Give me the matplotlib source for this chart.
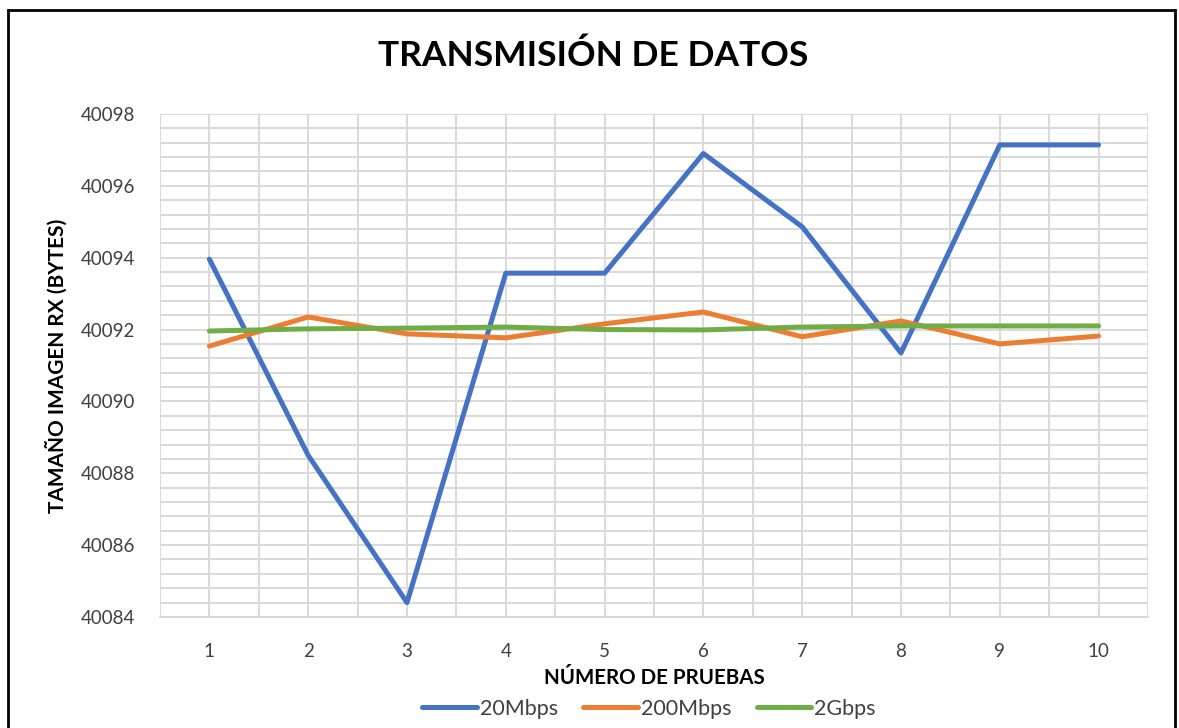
import numpy as np
import matplotlib.pyplot as plt
from matplotlib.patches import Rectangle
from matplotlib.ticker import MultipleLocator

plt.rcParams['font.family'] = ['Lato', 'DejaVu Sans']

# Data
pruebas = [1, 2, 3, 4, 5, 6, 7, 8, 9, 10]
mbps20 = [40093.96, 40088.5, 40084.4, 40093.57, 40093.57, 40096.9, 40094.86, 40091.35, 40097.14, 40097.14]
mbps200 = [40091.54, 40092.35, 40091.88, 40091.77, 40092.16, 40092.49, 40091.8, 40092.24, 40091.6, 40091.82]
gbps2 = [40091.96, 40092.02, 40092.04, 40092.07, 40092.0, 40091.99, 40092.07, 40092.1, 40092.1, 40092.1]
series_names = ['20Mbps', '200Mbps', '2Gbps']
colors = ['#4472C4', '#ED7D31', '#70AD47']

fig = plt.figure(figsize=(11.79, 7.28), dpi=100)
ax = fig.add_axes([0.1357, 0.1525, 0.9737 - 0.1357, 0.8434 - 0.1525])

for vals, name, c in zip([mbps20, mbps200, gbps2], series_names, colors):
    ax.plot(pruebas, vals, color=c, lw=3.6, label=name, solid_capstyle='round', zorder=3)

ax.set_xlim(0.5, 10.5)
ax.set_ylim(40084, 40098)
ax.set_xticks(pruebas)
ax.xaxis.set_minor_locator(MultipleLocator(0.5))
ax.yaxis.set_major_locator(MultipleLocator(2))
ax.yaxis.set_minor_locator(MultipleLocator(0.4))
ax.grid(which='both', color='#d9d9d9', lw=1.4)
ax.tick_params(which='both', length=0, labelsize=13.5, colors='#404040')
ax.tick_params(axis='x', pad=19)
ax.tick_params(axis='y', pad=18)
ax.yaxis.set_major_formatter(plt.FuncFormatter(lambda v, p: f'{v:.0f}'))
for s in ['top', 'right', 'left']:
    ax.spines[s].set_visible(False)
ax.spines['bottom'].set_color('#d9d9d9')
ax.spines['bottom'].set_linewidth(1.4)

ax.set_xlabel('NÚMERO DE PRUEBAS', fontsize=14.8, fontweight='bold', color='black', labelpad=5.5)
ax.set_ylabel('TAMAÑO IMAGEN RX (BYTES)', fontsize=15, fontweight='bold', color='black', labelpad=9)
fig.text(0.503, 0.924, 'TRANSMISIÓN DE DATOS', ha='center', va='center', fontsize=25.5, fontweight='bold')

ax.legend(loc='upper center', bbox_to_anchor=(0.495, -0.124), ncol=3, frameon=False,
          fontsize=15.5, handlelength=2.55, handletextpad=0.14, columnspacing=1.16, labelcolor='#404040')

# chart border
fig.patches.append(Rectangle((0.007, -0.01), 0.99, 0.986 + 0.01, transform=fig.transFigure,
                             fill=False, edgecolor='black', lw=2))

fig.savefig('out.png', dpi=100)
